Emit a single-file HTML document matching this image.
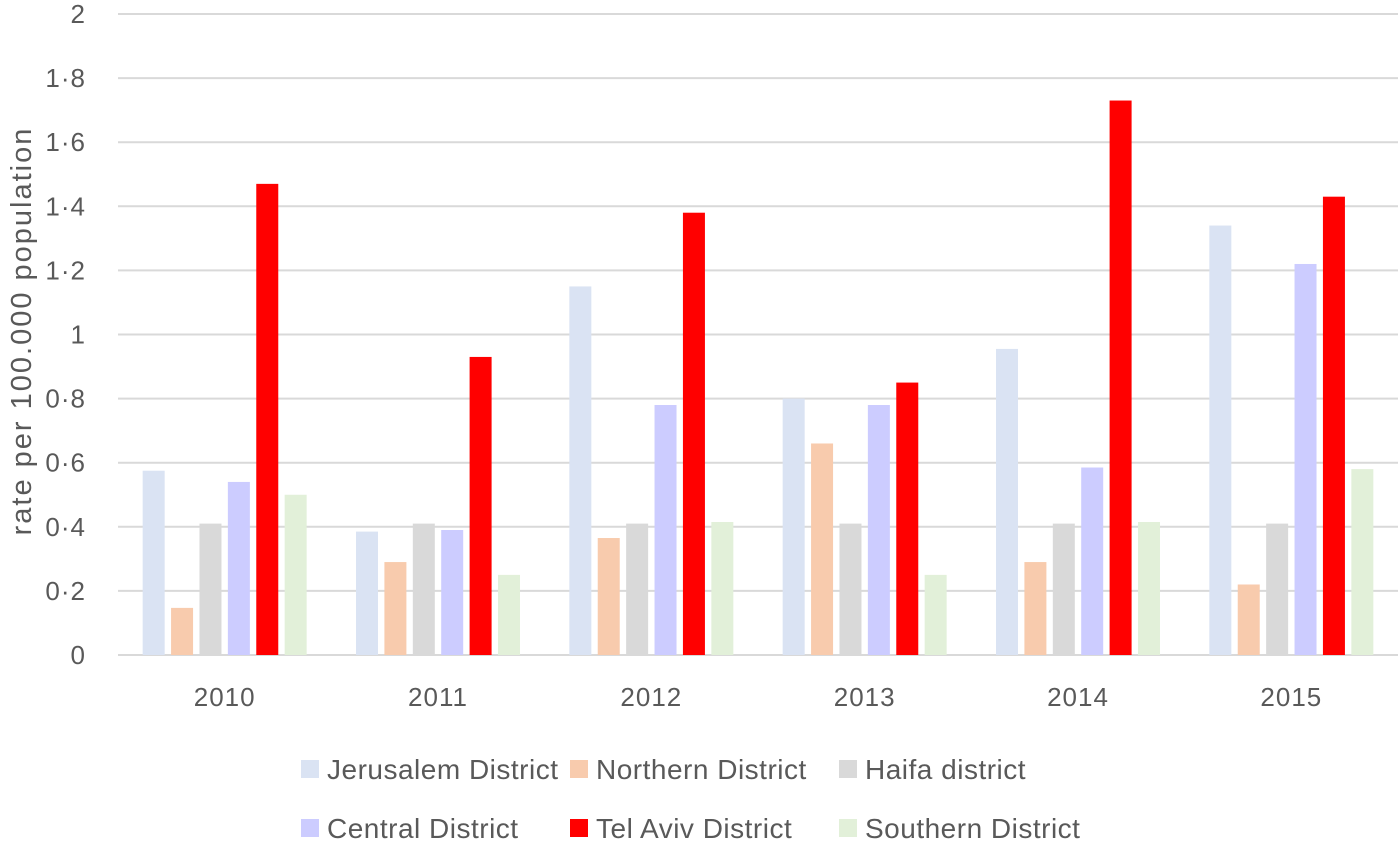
<!DOCTYPE html>
<html><head><meta charset="utf-8"><style>
body{margin:0;background:#fff;}
svg text{font-family:"Liberation Sans",sans-serif;fill:#595959;}
</style></head><body>
<svg id="chart" width="1400" height="841" xmlns="http://www.w3.org/2000/svg"></svg>
<script>
const categories = ["2010","2011","2012","2013","2014","2015"];
const seriesNames = ["Jerusalem District","Northern District","Haifa district","Central District","Tel Aviv District","Southern District"];
const seriesColors = ["#dae3f3","#f8cbad","#d9d9d9","#ccccff","#ff0000","#e2f0d9"];
const jerusalem = [0.575,0.385,1.15,0.80,0.955,1.34];
const northern = [0.147,0.29,0.365,0.66,0.29,0.22];
const haifa = [0.41,0.41,0.41,0.41,0.41,0.41];
const central = [0.54,0.39,0.78,0.78,0.585,1.22];
const telAviv = [1.47,0.93,1.38,0.85,1.73,1.43];
const southern = [0.50,0.25,0.415,0.25,0.415,0.58];
const yTicks = [0,0.2,0.4,0.6,0.8,1,1.2,1.4,1.6,1.8,2];
const yTickLabels = ["0","0·2","0·4","0·6","0·8","1","1·2","1·4","1·6","1·8","2"];

const series = [jerusalem,northern,haifa,central,telAviv,southern];
const svg = document.getElementById('chart');
const NS = "http://www.w3.org/2000/svg";
const x0 = 118, x1 = 1398, y0 = 655, yTop = 14;
const catW = (x1 - x0) / categories.length;
const yScale = v => y0 - (v / 2) * (y0 - yTop);
const xCenter = i => x0 + catW * (i + 0.5);
const barW = 22, step = 28.4;
function mk(tag, attrs){const e=document.createElementNS(NS,tag);for(const k in attrs)e.setAttribute(k,attrs[k]);svg.appendChild(e);return e;}

yTicks.forEach((t,i)=>{
  const y = yScale(t);
  const g = mk('line',{x1:x0,x2:x1,y1:y,y2:y,stroke:'#d9d9d9','stroke-width':2});
  
  
  const tx = mk('text',{x:86,y:y+9,'text-anchor':'end','font-size':26,'letter-spacing':1});
  tx.textContent = yTickLabels[i];
  
  
});
const yt = mk('text',{x:0,y:0,'text-anchor':'middle','font-size':29,'letter-spacing':2,transform:'translate(31,331) rotate(-90)'});
yt.textContent = 'rate per 100.000 population';



categories.forEach((c,i)=>{
  series.forEach((s,j)=>{
    const x = xCenter(i) + (j - 2.5) * step - barW/2;
    const y = yScale(s[i]);
    const r = mk('rect',{x:x,y:y,width:barW,height:y0-y,fill:seriesColors[j]});
    
    
  });
  const t = mk('text',{x:xCenter(i),y:706,'text-anchor':'middle','font-size':26,'letter-spacing':1});
  t.textContent = c;
  
  
});

seriesNames.forEach((n,j)=>{
  const col = j%3, row = Math.floor(j/3);
  const lx = 301 + col*269, ly = 769 + row*59;
  const sw = mk('rect',{x:lx,y:ly-9,width:18,height:18,fill:seriesColors[j]});
  
  
  const t = mk('text',{x:lx+26,y:ly+10,'font-size':28,'letter-spacing':0.5});
  t.textContent = n;
  
  
});
</script>
</body></html>
